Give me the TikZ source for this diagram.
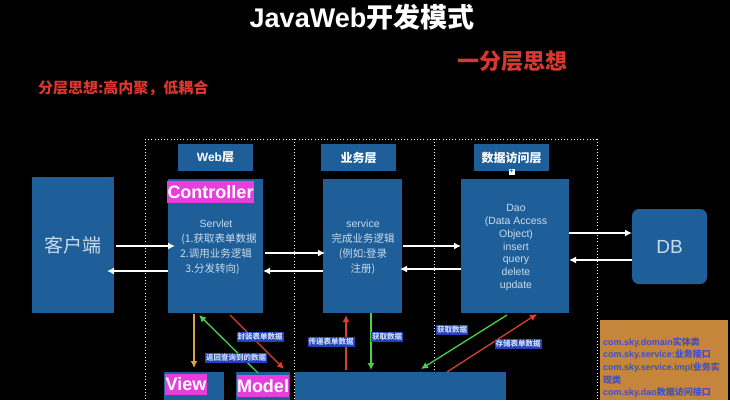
\documentclass[tikz,border=0pt]{standalone}
\usepackage{fontspec}
\setmainfont{Liberation Sans}
\newfontfamily\cjk{Noto Sans CJK SC}
\newcommand{\zh}[1]{{\cjk #1}}
\usetikzlibrary{arrows.meta}
\definecolor{boxblue}{HTML}{1F5F99}
\definecolor{pinkbg}{HTML}{E63FDD}
\definecolor{tagblue}{HTML}{2440BE}
\definecolor{orangebg}{HTML}{C5853A}
\definecolor{softtext}{HTML}{C9DCEC}
\definecolor{redtext}{HTML}{D9382E}
\definecolor{arrred}{HTML}{D8402F}
\definecolor{arrgreen}{HTML}{4CD048}
\definecolor{arrorange}{HTML}{D9A050}
\definecolor{orangetext}{HTML}{3F50C4}
\tikzset{
  x=1pt,y=-1pt,
  every node/.style={inner sep=0pt,outer sep=0pt},
  block/.style={fill=boxblue,anchor=north west},
  head/.style={fill=boxblue,text=white,font=\fontsize{12}{14}\selectfont\bfseries,minimum height=27pt,minimum width=75pt},
  pinktag/.style={fill=pinkbg,text=white,font=\fontsize{18}{21}\selectfont\bfseries,anchor=north west},
  body/.style={text=softtext,font=\fontsize{10.5}{13}\selectfont,align=center},
  tag/.style={fill=tagblue,text=softtext,font=\fontsize{7.5}{9}\selectfont\bfseries,inner sep=1pt},
  white arrow/.style={draw=white,line width=1.4pt,-{Latex[length=7pt,width=7pt]}},
  thin arrow/.style={line width=1.3pt,-{Latex[length=7pt,width=7pt]}},
  dotline/.style={draw=white,line width=0.9pt,dash pattern=on 1pt off 2.2pt},
}
\begin{document}
\begin{tikzpicture}
\path[fill=black,use as bounding box] (0,0) rectangle (730,400);

% frame
\coordinate (f1) at (145,139);
\coordinate (f2) at (294,139);
\coordinate (f3) at (434,139);
\coordinate (f4) at (597,139);
\coordinate (f1b) at (145,400);
\coordinate (f2b) at (294,400);
\coordinate (f3b) at (434,400);
\coordinate (f4b) at (597,400);
\draw[dotline] (f1) -- (f4);
\draw[dotline] (f1) -- (f1b);
\draw[dotline] (f2) -- (f2b);
\draw[dotline] (f3) -- (f3b);
\draw[dotline] (f4) -- (f4b);

% titles
\node[text=white,font=\fontsize{27}{30}\selectfont\bfseries] (title) at (362,17) {JavaWeb\zh{开发模式}};
\node[text=redtext,font=\fontsize{22}{24}\selectfont\bfseries] (sub) at (512,61) {\zh{一分层思想}};
\node[text=redtext,font=\fontsize{15}{17}\selectfont\bfseries,anchor=west] (lead) at (38,88.5) {\zh{分层思想:高内聚，低耦合}};

% blocks
\node[block,minimum width=82pt,minimum height=136pt,text=softtext,font=\fontsize{19}{22}\selectfont] (client) at (32,177) {\zh{客户端}};
\node[block,minimum width=95pt,minimum height=134pt] (web) at (168,179) {};
\node[block,minimum width=79pt,minimum height=134pt] (svc) at (323,179) {};
\node[block,minimum width=108pt,minimum height=134pt] (dao) at (461,179) {};
\node[fill=boxblue,rounded corners=7pt,minimum width=75pt,minimum height=75pt,text=softtext,font=\fontsize{19}{21}\selectfont] (db) at (669.5,246.5) {DB};

\node[head] (hweb) at (215.5,157.5) {Web\zh{层}};
\node[head] (hsvc) at (358.5,157.5) {\zh{业务层}};
\node[head] (hdao) at (511.5,157.5) {\zh{数据访问层}};
\node[fill=white,minimum width=6pt,minimum height=6pt,text=boxblue,font=\fontsize{7}{7}\selectfont\bfseries] (plus) at (511.5,171.5) {+};

\node[pinktag,minimum width=87pt,minimum height=22pt] (ctl) at (167,181) {Controller};

% block texts
\node[body] (webtxt) at (216,247) {Servlet\\[2pt]\hspace*{6pt}\zh{(1.获取表单数据}\\[2pt]\zh{2.调用业务逻辑}\\[2pt]\zh{3.分发转向)}\hspace*{7pt}};
\node[body] (svctxt) at (363,247) {service\\[2pt]\zh{完成业务逻辑}\\[2pt]\zh{(例如:登录}\\[2pt]\zh{注册)}};
\node[body,font=\fontsize{10.5}{12.8}\selectfont] (daotxt) at (516,247.5) {Dao\\(Data Access\\Object)\\insert\\query\\delete\\update};

% lower blocks
\node[block,minimum width=60pt,minimum height=28pt] (view) at (164,372) {};
\node[block,minimum width=54pt,minimum height=28pt] (model) at (236,372) {};
\node[block,minimum width=211pt,minimum height=28pt] (store) at (295,372) {};
\node[pinktag,minimum width=42pt,minimum height=21pt] (viewt) at (165,374) {View};
\node[pinktag,minimum width=52pt,minimum height=22pt] (modelt) at (237,375) {Model};

% orange note
\node[fill=orangebg,anchor=north west,minimum width=128pt,minimum height=80pt] (note) at (600,320) {};
\node[anchor=north west,text=orangetext,text width=124pt,font=\fontsize{9}{12.6}\selectfont\bfseries] (notetxt) at (603,337.5) {com.sky.domain\zh{实体类}\\com.sky.service:\zh{业务接口}\\com.sky.service.impl\zh{业务实}\\\zh{现类}\\com.sky.dao\zh{数据访问接口}};

% horizontal arrows
\draw[white arrow] (client.east |- 0,246) ++(2,0) -- (web.west |- 0,246) -- ++(7,0);
\draw[white arrow] (web.west |- 0,271) -- (client.east |- 0,271) -- ++(-7,0);
\draw[white arrow] (web.east |- 0,253) ++(2,0) -- (svc.west |- 0,253) -- ++(2,0);
\draw[white arrow] (svc.west |- 0,271) -- (web.east |- 0,271);
\draw[white arrow] (svc.east |- 0,246) ++(1,0) -- (dao.west |- 0,246);
\draw[white arrow] (dao.west |- 0,269) -- (svc.east |- 0,269) -- ++(-2,0);
\draw[white arrow] (dao.east |- 0,233) -- (db.west |- 0,233);
\draw[white arrow] (db.west |- 0,260) -- (dao.east |- 0,260);

% vertical and diagonal arrows
\coordinate (wo) at (194,314); \coordinate (vo) at (194,368);
\coordinate (mg) at (258,373); \coordinate (wg) at (199,315);
\coordinate (wr) at (230,315); \coordinate (mr) at (284,369);
\coordinate (sr) at (346,315); \coordinate (str) at (346,370);
\coordinate (sg) at (371,313); \coordinate (stg) at (371,370);
\coordinate (dg) at (507,315); \coordinate (dsg) at (421,369);
\coordinate (dr) at (537,314); \coordinate (dsr) at (447,372);
\draw[thin arrow,draw=arrorange] (wo) -- (vo);
\draw[thin arrow,draw=arrgreen] (mg) -- (wg);
\draw[thin arrow,draw=arrred] (wr) -- (mr);
\draw[thin arrow,draw=arrred] (str) -- (sr);
\draw[thin arrow,draw=arrgreen] (sg) -- (stg);
\draw[thin arrow,draw=arrgreen] (dg) -- (dsg);
\draw[thin arrow,draw=arrred] (dsr) -- (dr);

% connector labels
\node[tag] (t1) at (260,337) {\zh{封装表单数据}};
\node[tag] (t2) at (236,358) {\zh{返回查询到的数据}};
\node[tag] (t3) at (331,342) {\zh{传递表单数据}};
\node[tag] (t4) at (387,337) {\zh{获取数据}};
\node[tag] (t5) at (452,330) {\zh{获取数据}};
\node[tag] (t6) at (518,344) {\zh{存储表单数据}};
\end{tikzpicture}
\end{document}
